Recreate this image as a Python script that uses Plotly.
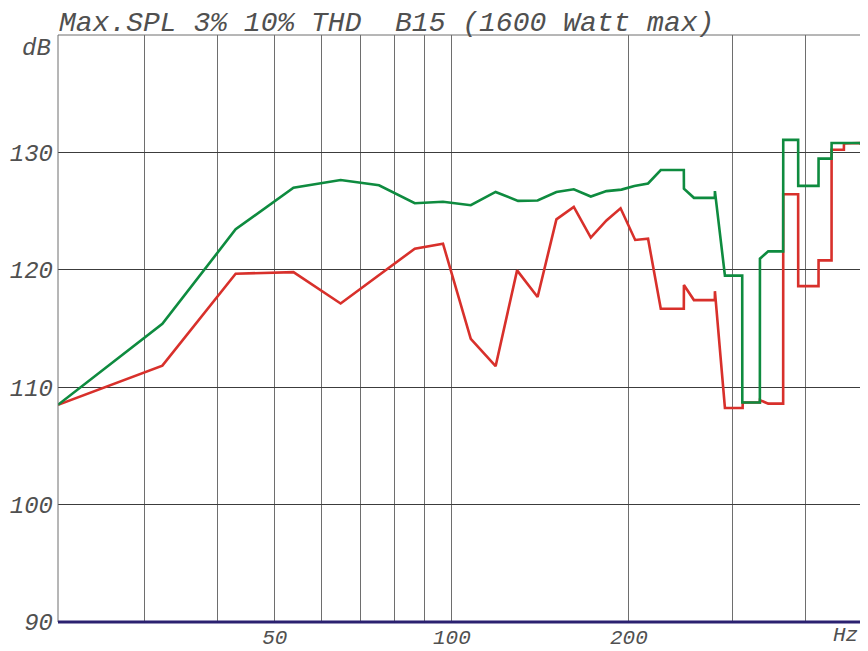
import plotly.graph_objects as go

# ---- data ----
freq_10 = [21.4, 32.2, 42.9, 53.8, 64.7, 75.2, 86.5, 96.6, 107.7, 118.7, 129.6, 139.9,
           150.6, 161.2, 172.3, 183.2, 194.3, 204.3, 215.6, 226.6, 248.0, 248.1, 258.0,
           280.0, 280.1, 291.3, 311.7, 311.8, 334.0, 334.1, 345.1, 365.9, 366.0, 388.0,
           388.1, 420.2, 420.3, 442.2, 442.3, 494.2, 500.0, 506.0]
spl_10 = [108.5, 115.4, 123.45, 127.0, 127.65, 127.2, 125.67, 125.8, 125.5, 126.63, 125.87, 125.9,
          126.63, 126.86, 126.24, 126.7, 126.83, 127.14, 127.35, 128.5, 128.5, 126.9, 126.13,
          126.13, 126.7, 119.5, 119.5, 108.7, 108.7, 120.95, 121.57, 121.57, 131.07, 131.07,
          127.15, 127.15, 129.47, 129.47, 130.8, 130.8, 130.55, 130.55]

freq_3 = [21.4, 32.2, 42.9, 53.8, 64.7, 86.5, 96.6, 107.7, 118.7, 129.1, 139.9, 150.6,
          161.2, 172.3, 183.2, 193.6, 205.0, 215.6, 226.6, 248.0, 248.1, 258.0, 280.0,
          280.1, 291.3, 312.2, 312.3, 334.0, 334.1, 345.1, 365.9, 366.0, 388.0, 388.1,
          420.2, 420.3, 442.2, 442.3, 464.1, 464.2, 494.2, 500.0, 506.0]
spl_3 = [108.5, 111.84, 119.67, 119.8, 117.13, 121.8, 122.23, 114.12, 111.79, 119.95, 117.68, 124.3,
         125.35, 122.74, 124.2, 125.24, 122.54, 122.65, 116.68, 116.68, 118.7, 117.42, 117.42,
         118.18, 108.23, 108.23, 108.7, 108.7, 108.9, 108.6, 108.6, 126.43, 126.43, 118.61,
         118.61, 120.8, 120.8, 130.22, 130.22, 130.76, 130.8, 130.55, 130.55]

x_tickvals = [30, 40, 50, 60, 70, 80, 90, 100, 200, 300, 400, 500]
x_ticktext = ["", "", "50", "", "", "", "", "100", "200", "", "", ""]
y_tickvals = [90, 100, 110, 120, 130]
y_ticktext = ["90", "100", "110", "120", "130"]

title_text = "Max.SPL 3% 10% THD  B15 (1600 Watt max)"

FONT = "Liberation Mono"
TXT = "#505050"
Y_TICK_SIZE = 24
X_TICK_SIZE = 21

fig = go.Figure()
fig.add_trace(go.Scatter(x=freq_3, y=spl_3, mode="lines", name="3% THD",
                         line=dict(color="#d8302b", width=2.6), hoverinfo="x+y"))
fig.add_trace(go.Scatter(x=freq_10, y=spl_10, mode="lines", name="10% THD",
                         line=dict(color="#0e8b3f", width=2.6), hoverinfo="x+y"))

# page body has an 8px margin, so the figure is 860x643 to fill the 868x651 window
fig.update_layout(
    width=860, height=643,
    margin=dict(l=50, r=2, t=27, b=29, autoexpand=False),
    paper_bgcolor="white", plot_bgcolor="white",
    showlegend=False,
    font=dict(family=FONT, color=TXT),
    xaxis=dict(type="log", range=[1.3304, 2.7042], tickvals=x_tickvals, ticktext=x_ticktext,
               showgrid=True, gridcolor="#6e6e6e", gridwidth=1, zeroline=False,
               showline=False, ticks="", ticklabelstandoff=0, automargin=False,
               tickfont=dict(family=FONT, size=X_TICK_SIZE, color=TXT, style="italic")),
    yaxis=dict(range=[90, 140], tickvals=y_tickvals, ticktext=y_ticktext,
               showgrid=True, gridcolor="#3c3c3c", gridwidth=1, zeroline=False,
               showline=False, ticks="", ticklabelstandoff=4, automargin=False,
               tickfont=dict(family=FONT, size=Y_TICK_SIZE, color=TXT, style="italic")),
    shapes=[
        dict(type="line", xref="paper", yref="paper", x0=0, x1=1, y0=1, y1=1,
             line=dict(color="#6e6e6e", width=1)),
        dict(type="line", xref="paper", yref="paper", x0=0, x1=0, y0=0, y1=1,
             line=dict(color="#6e6e6e", width=1)),
        dict(type="line", xref="paper", yref="paper", x0=1, x1=1, y0=0, y1=1,
             line=dict(color="#6e6e6e", width=1.5)),
        dict(type="line", xref="paper", yref="paper", x0=0, x1=1, y0=0, y1=0,
             line=dict(color="#2b2170", width=3)),
    ],
    annotations=[
        dict(text=title_text, xref="paper", yref="paper", x=0, y=1 + (27 - 15.5) / 587,
             xanchor="left", yanchor="middle", showarrow=False, borderpad=0,
             font=dict(family=FONT, size=28, color=TXT, style="italic")),
        dict(text="dB", xref="paper", yref="paper", x=-0.006, y=(622 - 48) / 587,
             xanchor="right", yanchor="middle", showarrow=False,
             font=dict(family=FONT, size=Y_TICK_SIZE, color=TXT, style="italic")),
        dict(text="Hz", xref="paper", yref="paper", x=(845 - 58) / 808, y=-(635 - 622) / 587,
             xanchor="center", yanchor="middle", showarrow=False,
             font=dict(family=FONT, size=X_TICK_SIZE, color=TXT, style="italic")),
    ],
)

fig.write_html("out.html")
